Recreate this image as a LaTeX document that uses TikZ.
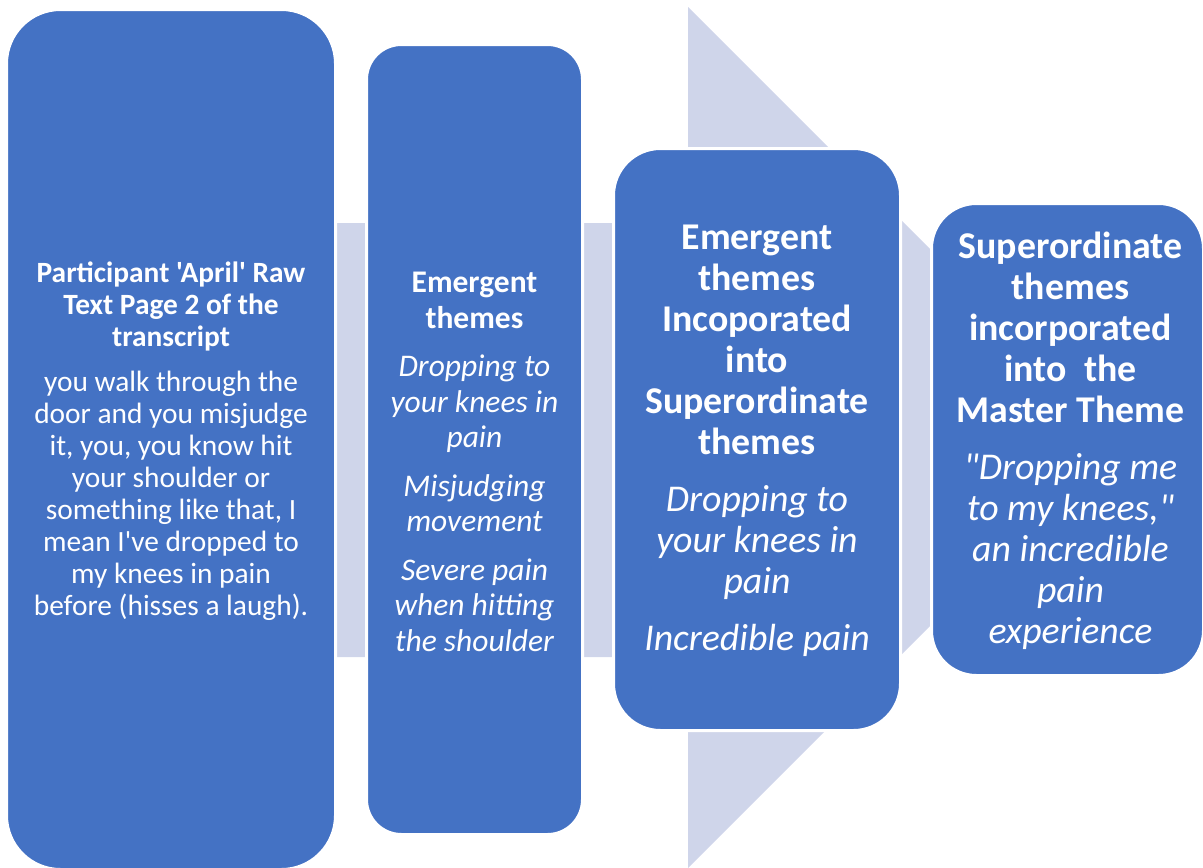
\documentclass[tikz,border=0pt]{standalone}
\usepackage{fontspec}
\setmainfont{Carlito}[Ligatures=TeXOff]
\usetikzlibrary{positioning}

\definecolor{themeblue}{HTML}{4472C4}
\definecolor{arrowgrey}{HTML}{CFD5EA}

\begin{document}
\begin{tikzpicture}[x=1pt, y=-1pt,
    stage/.style={draw=white, line width=3pt, fill=themeblue, rounded corners=#1, inner sep=0pt, outer sep=0pt},
    stagetext/.style={text=white, align=flush center, inner sep=0pt, yshift=-1.5pt},
    smallfont/.style={font=\fontsize{29.4}{32}\selectfont},
    midfont/.style={font=\fontsize{31.5}{35.5}\selectfont},
    bigfont/.style={font=\fontsize{37.8}{41}\selectfont}
]
\useasboundingbox (0,0) rectangle (1203,868);

% block arrow behind the four stages
\fill[arrowgrey] (171,223) -- (688,223) -- (688,7) -- (1118.5,437.5)
    -- (688,868) -- (688,657) -- (171,657) -- cycle;

\node[stage=54pt, minimum width=329pt, minimum height=860pt] (rawText) at (171,439.5) {};
\node[stage=35pt, minimum width=216pt, minimum height=790pt, right=31pt of rawText] (emergent) {};
\node[stage=47pt, minimum width=287pt, minimum height=582pt, right=31pt of emergent] (superord) {};
\node[stage=45pt, minimum width=272pt, minimum height=472pt, right=31pt of superord] (master) {};

\node[stagetext, smallfont, text width=320pt] (rawTextBody) at (rawText.center) {
    \bfseries Participant 'April' Raw\\ Text Page 2 of the\\ transcript\\[13pt]
    \mdseries you walk through the\\ door and you misjudge\\ it, you, you know hit\\
    your shoulder or\\ something like that, I\\ mean I've dropped to\\
    my knees in pain\\ before (hisses a laugh).};

\node[stagetext, midfont, text width=210pt] (emergentBody) at ([yshift=-21pt]emergent.center) {
    \bfseries Emergent\\ themes\\[13pt]
    \mdseries\itshape Dropping to\\ your knees in\\ pain\\[13pt]
    Misjudging\\ movement\\[13pt]
    Severe pain\\ when hitting\\ the shoulder};

\node[stagetext, bigfont, text width=280pt] (superordBody) at (superord.center) {
    \bfseries Emergent\\ themes\\ Incoporated\\ into\\ Superordinate\\ themes\\[16pt]
    \mdseries\itshape Dropping to\\ your knees in\\ pain\\[16pt]
    Incredible pain};

\node[stagetext, bigfont, text width=266pt] (masterBody) at ([xshift=3pt]master.center) {
    \bfseries Superordinate\\ themes\\ incorporated\\ into\ \ the\\ Master Theme\\[16pt]
    \mdseries\itshape "Dropping me\\ to my knees,"\\ an incredible\\ pain\\ experience};

\end{tikzpicture}
\end{document}
